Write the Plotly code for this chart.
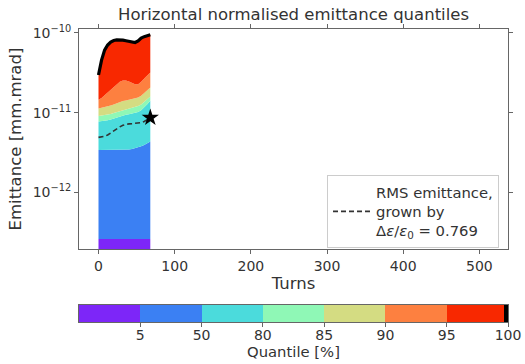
import plotly.graph_objects as go

# ---------------- data ----------------
turns = [0, 4, 8, 12, 16, 20, 24, 28, 32, 36, 40, 44, 48, 52, 56, 60, 64, 68]

# emittance quantiles in units of 1e-12 mm.mrad
q0   = [0.15] * 18
q5   = [0.26, 0.26, 0.26, 0.26, 0.26, 0.26, 0.26, 0.26, 0.26, 0.26, 0.26, 0.26, 0.26, 0.26, 0.26, 0.26, 0.26, 0.26]
q50  = [3.40, 3.40, 3.40, 3.40, 3.41, 3.41, 3.42, 3.42, 3.43, 3.44, 3.46, 3.50, 3.57, 3.68, 3.79, 3.94, 4.14, 4.35]
q80  = [7.75, 7.80, 7.90, 8.05, 8.20, 8.45, 8.70, 8.95, 9.20, 9.40, 9.60, 9.80, 9.95, 10.2, 10.7, 11.6, 12.8, 14.1]
q85  = [9.10, 9.20, 9.30, 9.50, 9.65, 9.95, 10.2, 10.5, 10.8, 11.1, 11.3, 11.5, 11.7, 12.1, 12.7, 13.6, 14.8, 16.0]
q90  = [11.3, 11.5, 11.7, 12.0, 12.3, 12.7, 13.2, 13.6, 14.0, 14.2, 14.5, 14.8, 15.1, 15.5, 16.3, 17.6, 19.2, 20.7]
q95  = [14.5, 15.3, 16.6, 18.0, 19.4, 21.1, 22.6, 24.4, 25.4, 25.4, 24.7, 23.5, 22.8, 22.8, 24.4, 26.9, 29.6, 32.0]
q100 = [29.7, 45.7, 61.0, 70.6, 77.0, 80.5, 82.0, 82.0, 81.5, 80.0, 79.0, 77.0, 76.0, 79.5, 86.5, 90.0, 92.5, 95.0]

rms = [4.90, 4.95, 5.05, 5.25, 5.60, 5.95, 6.30, 6.65, 6.95, 7.15, 7.25, 7.30, 7.35, 7.40, 7.50, 7.75, 8.15, 8.67]
growth = 0.769

quantile_levels = ["5", "50", "80", "85", "90", "95", "100"]
band_colors = ["#7d26f8", "#3b80f3", "#4bdbdc", "#8ff8b6", "#d4dc82", "#fd8040", "#f82800"]
max_color = "#000000"

UNIT = 1e-12
bands = [q0, q5, q50, q80, q85, q90, q95, q100]

fig = go.Figure()

# ---------------- quantile bands ----------------
fig.add_trace(go.Scatter(x=turns, y=[v * UNIT for v in q0], mode="lines",
                         line=dict(width=0), showlegend=False, hoverinfo="skip"))
for i in range(1, len(bands)):
    fig.add_trace(go.Scatter(x=turns, y=[v * UNIT for v in bands[i]], mode="lines",
                             line=dict(width=0), fill="tonexty",
                             fillcolor=band_colors[i - 1], showlegend=False,
                             hoverinfo="skip"))
# max (100 %) edge
fig.add_trace(go.Scatter(x=turns, y=[v * UNIT for v in q100], mode="lines",
                         line=dict(width=3.2, color=max_color), showlegend=False,
                         hoverinfo="skip"))

# ---------------- RMS emittance ----------------
fig.add_trace(go.Scatter(
    x=turns, y=[v * UNIT for v in rms], mode="lines",
    line=dict(color="#333333", width=1.6, dash="5px,3px"),
    name="RMS emittance,<br>grown by<br>Δ<i>ε</i>/<i>ε</i><sub>0</sub> = %.3f" % growth,
))
fig.add_trace(go.Scatter(
    x=[turns[-1]], y=[rms[0] * (1 + growth) * UNIT], mode="markers",
    marker=dict(symbol="star", size=13, color="black"), showlegend=False,
))

# ---------------- quantile colour bar ----------------
cbar_edges = [0, 1, 2, 3, 4, 5, 6, 6.94, 7]
cbar_colors = band_colors + [max_color]
n = len(cbar_colors)
fig.add_trace(go.Heatmap(
    x=cbar_edges, y=[0, 1], z=[list(range(n))],
    colorscale=[[k / (n - 1), c] for k, c in enumerate(cbar_colors)],
    zmin=0, zmax=n - 1, showscale=False, xaxis="x2", yaxis="y2", hoverinfo="skip",
))

axis_col = "#666666"
tick_font = dict(family="DejaVu Sans", size=14, color="#333333")

fig.update_layout(
    width=525, height=364,
    margin=dict(l=79, r=17, t=29, b=42, autoexpand=False),
    paper_bgcolor="white", plot_bgcolor="white",
    font=dict(family="DejaVu Sans", color="#333333"),
    title=dict(text="Horizontal normalised emittance quantiles",
               x=0.5, xref="paper", xanchor="center",
               y=1 - 14 / 364, yanchor="middle",
               font=dict(size=16.5, color="#333333")),
    xaxis=dict(range=[-25.6, 537.6], tickvals=[0, 100, 200, 300, 400, 500],
               ticks="outside", ticklen=4, tickcolor=axis_col,
               showline=True, linecolor=axis_col, mirror="allticks",
               showgrid=False, zeroline=False, tickfont=tick_font, automargin=False,
               title=dict(text="Turns", font=dict(size=16.5), standoff=3),
               domain=[0, 1], anchor="y"),
    yaxis=dict(type="log", range=[-12.71, -9.95],
               tickvals=[1e-12, 1e-11, 1e-10],
               ticktext=["10<sup>−12</sup>", "10<sup>−11</sup>", "10<sup>−10</sup>"],
               ticks="outside", ticklen=4, tickcolor=axis_col,
               showline=True, linecolor=axis_col, mirror="allticks",
               showgrid=False, zeroline=False, tickfont=tick_font, automargin=False,
               title=dict(text="Emittance [mm.mrad]", font=dict(size=16.5), standoff=6),
               domain=[0.249, 1], anchor="x"),
    xaxis2=dict(range=[0, 7], tickvals=[1, 2, 3, 4, 5, 6, 7], ticktext=quantile_levels,
                ticks="outside", ticklen=4, tickcolor=axis_col, ticklabelstandoff=-4,
                showline=True, linecolor=axis_col, mirror=True,
                showgrid=False, zeroline=False, tickfont=tick_font, automargin=False,
                title=dict(text="Quantile [%]", font=dict(size=14.8), standoff=0),
                domain=[0, 1], anchor="y2"),
    yaxis2=dict(range=[0, 1], showticklabels=False, ticks="", automargin=False,
                showline=True, linecolor=axis_col, mirror=True,
                showgrid=False, zeroline=False, domain=[0, 0.058], anchor="x2"),
    legend=dict(x=(327 - 79) / 429, y=(322 - 175) / 293, xanchor="left", yanchor="top",
                bgcolor="white", bordercolor="#cccccc", borderwidth=1,
                font=dict(size=14.8, color="#333333"), valign="middle", itemwidth=38),
    showlegend=True,
)

fig.write_html("out.html")
